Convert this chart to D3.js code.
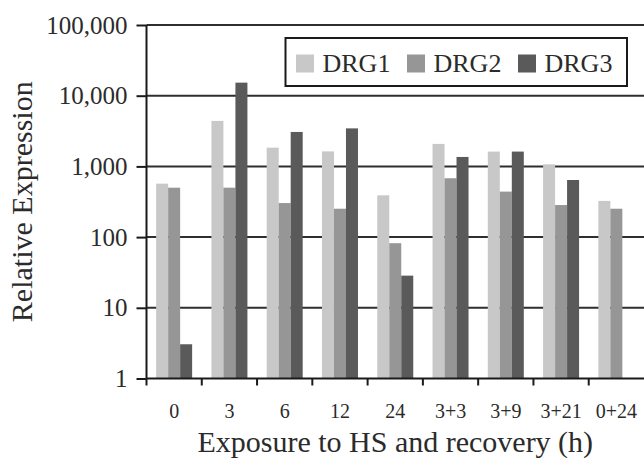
<!DOCTYPE html>
<html>
<head>
<meta charset="utf-8">
<script src="https://cdn.jsdelivr.net/npm/d3@7/dist/d3.min.js"></script>
<style>
  html, body { margin: 0; padding: 0; background: #fff; }
  svg { display: block; }
  text { font-family: "Liberation Serif", "Times New Roman", serif; fill: #2b2b2b; }
</style>
</head>
<body>
<svg id="chart" width="644" height="458"></svg>
<script>
const categories = ["0", "3", "6", "12", "24", "3+3", "3+9", "3+21", "0+24"];
const seriesNames = ["DRG1", "DRG2", "DRG3"];
const drg1 = [570, 4400, 1840, 1630, 390, 2080, 1620, 1070, 325];
const drg2 = [500, 500, 303, 252, 82, 680, 440, 284, 252];
const drg3 = [3.05, 15300, 3070, 3450, 28.5, 1360, 1620, 642, null];
const yTicks = [1, 10, 100, 1000, 10000, 100000];
const colors = ["#c8c8c8", "#969696", "#5a5a5a"];

const seriesValues = [drg1, drg2, drg3];
const svg = d3.select("#chart");
const mLeft = 146.5, mRight = 644, mTop = 25, mBottom = 378.5;

const x = d3.scaleBand().domain(categories).range([mLeft, mRight]).padding(0);
const groupW = 36;
const x1 = d3.scaleBand().domain(seriesNames).range([0, groupW]).padding(0);
const y = d3.scaleLog().domain([1, 100000]).range([mBottom, mTop]);

// gridlines
svg.append("g").selectAll("line").data(yTicks.slice(1)).join("line")
  .attr("x1", mLeft).attr("x2", mRight)
  .attr("y1", d => y(d)).attr("y2", d => y(d))
  .attr("stroke", "#2e2e2e").attr("stroke-width", 2);

// bars
const data = [];
categories.forEach((c, ci) => {
  seriesNames.forEach((s, si) => {
    const v = seriesValues[si][ci];
    if (v != null) data.push({ c, s, si, v });
  });
});
svg.append("g").selectAll("rect").data(data).join("rect")
  .attr("x", d => x(d.c) + (x.bandwidth() - groupW) / 2 + x1(d.s))
  .attr("width", x1.bandwidth())
  .attr("y", d => y(d.v))
  .attr("height", d => y(1) - y(d.v))
  .attr("fill", d => colors[d.si]);

// y axis
const yAxis = d3.axisLeft(y).tickValues(yTicks).tickFormat(d3.format(",")).tickSize(10).tickPadding(9);
const gy = svg.append("g").attr("transform", `translate(${mLeft},0)`).call(yAxis);
gy.select(".domain").attr("stroke", "#1a1a1a").attr("stroke-width", 2).attr("d", `M0,${mTop}V${mBottom}`);
gy.selectAll(".tick line").attr("stroke", "#1a1a1a").attr("stroke-width", 2);
gy.selectAll(".tick text").attr("font-size", 25).attr("fill", "#2b2b2b")
  .style("font-family", '"Liberation Serif", "Times New Roman", serif');

// x axis (ticks at band boundaries)
const gx = svg.append("g").attr("transform", `translate(0,${mBottom})`);
gx.append("line").attr("x1", mLeft).attr("x2", mRight).attr("y1", 0).attr("y2", 0)
  .attr("stroke", "#1a1a1a").attr("stroke-width", 2);
gx.selectAll("line.tk").data(categories).join("line").attr("class", "tk")
  .attr("x1", d => x(d)).attr("x2", d => x(d)).attr("y1", 0).attr("y2", 7)
  .attr("stroke", "#1a1a1a").attr("stroke-width", 2);
gx.selectAll("text").data(categories).join("text")
  .attr("x", d => x(d) + x.bandwidth() / 2).attr("y", 39)
  .attr("text-anchor", "middle").attr("font-size", 20).text(d => d);

// axis titles
svg.append("text").attr("x", (mLeft + mRight) / 2).attr("y", 452)
  .attr("text-anchor", "middle").attr("font-size", 30).text("Exposure to HS and recovery (h)");
svg.append("text").attr("transform", `translate(31.5,${(mTop + mBottom) / 2}) rotate(-90)`)
  .attr("text-anchor", "middle").attr("font-size", 30).text("Relative Expression");

// legend
const lg = svg.append("g");
lg.append("rect").attr("x", 285.5).attr("y", 38).attr("width", 341.5).attr("height", 48)
  .attr("fill", "#fff").attr("stroke", "#1a1a1a").attr("stroke-width", 2);
const items = lg.selectAll("g").data(seriesNames).join("g")
  .attr("transform", (d, i) => `translate(${296 + i * 111},0)`);
items.append("rect").attr("x", 0).attr("y", 54.5).attr("width", 18).attr("height", 18)
  .attr("fill", (d, i) => colors[i]);
items.append("text").attr("x", 26.5).attr("y", 72).attr("font-size", 26).text(d => d);
</script>
</body>
</html>
